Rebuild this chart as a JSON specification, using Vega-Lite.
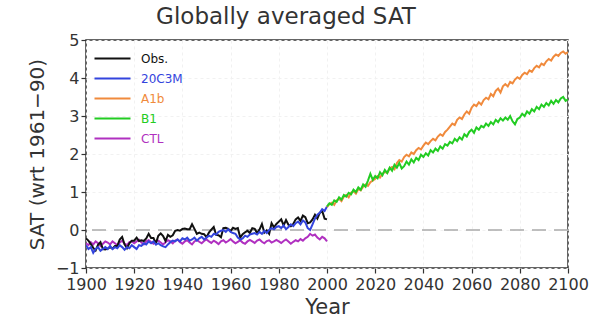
{
  "$schema": "https://vega.github.io/schema/vega-lite/v6.json",
  "width": 482,
  "height": 228,
  "autosize": {"type": "none"},
  "padding": {"left": 86, "top": 40, "right": 31, "bottom": 52},
  "background": "white",
  "config": {
    "font": "DejaVu Sans",
    "view": {"stroke": "#333333", "strokeWidth": 1.5},
    "axis": {
      "labelFont": "DejaVu Sans", "labelFontSize": 16, "labelColor": "#333333",
      "titleFont": "DejaVu Sans", "titleFontWeight": "normal", "titleColor": "#333333",
      "tickColor": "#333333", "tickSize": 5, "tickWidth": 1.2, "domain": false,
      "labelOverlap": false, "labelFlush": false, "labelBound": false,
      "gridColor": "#f1f1f1", "gridDash": [3, 3], "gridWidth": 1
    }
  },
  "title": {
    "text": "Globally  averaged  SAT",
    "font": "DejaVu Sans", "fontSize": 23, "fontWeight": "normal", "color": "#333333",
    "anchor": "middle", "dx": -41, "offset": 3
  },
  "data": {
    "values": [
      {"year":1900,"Obs":-0.22,"C20":-0.40,"CTL":-0.35},
      {"year":1901,"Obs":-0.28,"C20":-0.50,"CTL":-0.40},
      {"year":1902,"Obs":-0.37,"C20":-0.45,"CTL":-0.32},
      {"year":1903,"Obs":-0.47,"C20":-0.60,"CTL":-0.38},
      {"year":1904,"Obs":-0.54,"C20":-0.50,"CTL":-0.30},
      {"year":1905,"Obs":-0.39,"C20":-0.45,"CTL":-0.35},
      {"year":1906,"Obs":-0.32,"C20":-0.55,"CTL":-0.42},
      {"year":1907,"Obs":-0.50,"C20":-0.50,"CTL":-0.36},
      {"year":1908,"Obs":-0.51,"C20":-0.45,"CTL":-0.30},
      {"year":1909,"Obs":-0.49,"C20":-0.50,"CTL":-0.33},
      {"year":1910,"Obs":-0.45,"C20":-0.42,"CTL":-0.38},
      {"year":1911,"Obs":-0.49,"C20":-0.50,"CTL":-0.30},
      {"year":1912,"Obs":-0.42,"C20":-0.45,"CTL":-0.35},
      {"year":1913,"Obs":-0.42,"C20":-0.48,"CTL":-0.40},
      {"year":1914,"Obs":-0.25,"C20":-0.40,"CTL":-0.33},
      {"year":1915,"Obs":-0.18,"C20":-0.45,"CTL":-0.28},
      {"year":1916,"Obs":-0.38,"C20":-0.52,"CTL":-0.36},
      {"year":1917,"Obs":-0.48,"C20":-0.45,"CTL":-0.40},
      {"year":1918,"Obs":-0.35,"C20":-0.48,"CTL":-0.32},
      {"year":1919,"Obs":-0.28,"C20":-0.40,"CTL":-0.30},
      {"year":1920,"Obs":-0.28,"C20":-0.45,"CTL":-0.35},
      {"year":1921,"Obs":-0.20,"C20":-0.50,"CTL":-0.30},
      {"year":1922,"Obs":-0.29,"C20":-0.40,"CTL":-0.26},
      {"year":1923,"Obs":-0.27,"C20":-0.42,"CTL":-0.33},
      {"year":1924,"Obs":-0.29,"C20":-0.35,"CTL":-0.38},
      {"year":1925,"Obs":-0.22,"C20":-0.38,"CTL":-0.30},
      {"year":1926,"Obs":-0.10,"C20":-0.30,"CTL":-0.27},
      {"year":1927,"Obs":-0.21,"C20":-0.35,"CTL":-0.32},
      {"year":1928,"Obs":-0.21,"C20":-0.30,"CTL":-0.36},
      {"year":1929,"Obs":-0.35,"C20":-0.38,"CTL":-0.30},
      {"year":1930,"Obs":-0.15,"C20":-0.35,"CTL":-0.28},
      {"year":1931,"Obs":-0.09,"C20":-0.40,"CTL":-0.33},
      {"year":1932,"Obs":-0.16,"C20":-0.43,"CTL":-0.38},
      {"year":1933,"Obs":-0.29,"C20":-0.45,"CTL":-0.32},
      {"year":1934,"Obs":-0.13,"C20":-0.38,"CTL":-0.27},
      {"year":1935,"Obs":-0.18,"C20":-0.32,"CTL":-0.30},
      {"year":1936,"Obs":-0.14,"C20":-0.28,"CTL":-0.35},
      {"year":1937,"Obs":-0.02,"C20":-0.30,"CTL":-0.28},
      {"year":1938,"Obs":0.00,"C20":-0.25,"CTL":-0.25},
      {"year":1939,"Obs":-0.02,"C20":-0.30,"CTL":-0.32},
      {"year":1940,"Obs":0.03,"C20":-0.22,"CTL":-0.36},
      {"year":1941,"Obs":0.04,"C20":-0.25,"CTL":-0.30},
      {"year":1942,"Obs":0.02,"C20":-0.20,"CTL":-0.27},
      {"year":1943,"Obs":0.02,"C20":-0.28,"CTL":-0.33},
      {"year":1944,"Obs":0.15,"C20":-0.25,"CTL":-0.38},
      {"year":1945,"Obs":0.03,"C20":-0.20,"CTL":-0.30},
      {"year":1946,"Obs":-0.10,"C20":-0.28,"CTL":-0.26},
      {"year":1947,"Obs":-0.07,"C20":-0.22,"CTL":-0.31},
      {"year":1948,"Obs":-0.10,"C20":-0.18,"CTL":-0.35},
      {"year":1949,"Obs":-0.11,"C20":-0.25,"CTL":-0.29},
      {"year":1950,"Obs":-0.19,"C20":-0.20,"CTL":-0.25},
      {"year":1951,"Obs":-0.07,"C20":-0.15,"CTL":-0.30},
      {"year":1952,"Obs":0.01,"C20":-0.18,"CTL":-0.34},
      {"year":1953,"Obs":0.08,"C20":-0.10,"CTL":-0.28},
      {"year":1954,"Obs":-0.13,"C20":-0.12,"CTL":-0.32},
      {"year":1955,"Obs":-0.14,"C20":-0.05,"CTL":-0.37},
      {"year":1956,"Obs":-0.19,"C20":-0.02,"CTL":-0.30},
      {"year":1957,"Obs":0.05,"C20":0.00,"CTL":-0.27},
      {"year":1958,"Obs":0.06,"C20":-0.05,"CTL":-0.33},
      {"year":1959,"Obs":0.03,"C20":0.02,"CTL":-0.29},
      {"year":1960,"Obs":-0.03,"C20":-0.05,"CTL":-0.24},
      {"year":1961,"Obs":0.06,"C20":-0.08,"CTL":-0.30},
      {"year":1962,"Obs":0.03,"C20":-0.10,"CTL":-0.35},
      {"year":1963,"Obs":0.05,"C20":-0.20,"CTL":-0.31},
      {"year":1964,"Obs":-0.20,"C20":-0.25,"CTL":-0.27},
      {"year":1965,"Obs":-0.11,"C20":-0.22,"CTL":-0.33},
      {"year":1966,"Obs":-0.06,"C20":-0.15,"CTL":-0.36},
      {"year":1967,"Obs":-0.02,"C20":-0.18,"CTL":-0.30},
      {"year":1968,"Obs":-0.08,"C20":-0.12,"CTL":-0.26},
      {"year":1969,"Obs":0.05,"C20":-0.10,"CTL":-0.30},
      {"year":1970,"Obs":0.03,"C20":-0.08,"CTL":-0.34},
      {"year":1971,"Obs":-0.08,"C20":-0.12,"CTL":-0.28},
      {"year":1972,"Obs":0.01,"C20":-0.05,"CTL":-0.25},
      {"year":1973,"Obs":0.16,"C20":-0.10,"CTL":-0.31},
      {"year":1974,"Obs":-0.07,"C20":-0.02,"CTL":-0.35},
      {"year":1975,"Obs":-0.01,"C20":-0.08,"CTL":-0.29},
      {"year":1976,"Obs":-0.10,"C20":0.00,"CTL":-0.27},
      {"year":1977,"Obs":0.18,"C20":0.05,"CTL":-0.33},
      {"year":1978,"Obs":0.07,"C20":0.02,"CTL":-0.30},
      {"year":1979,"Obs":0.16,"C20":0.08,"CTL":-0.26},
      {"year":1980,"Obs":0.22,"C20":0.10,"CTL":-0.30},
      {"year":1981,"Obs":0.28,"C20":0.05,"CTL":-0.34},
      {"year":1982,"Obs":0.12,"C20":0.12,"CTL":-0.29},
      {"year":1983,"Obs":0.26,"C20":0.02,"CTL":-0.25},
      {"year":1984,"Obs":0.14,"C20":0.08,"CTL":-0.30},
      {"year":1985,"Obs":0.10,"C20":0.15,"CTL":-0.36},
      {"year":1986,"Obs":0.16,"C20":0.10,"CTL":-0.31},
      {"year":1987,"Obs":0.28,"C20":0.18,"CTL":-0.27},
      {"year":1988,"Obs":0.33,"C20":0.22,"CTL":-0.30},
      {"year":1989,"Obs":0.24,"C20":0.15,"CTL":-0.24},
      {"year":1990,"Obs":0.38,"C20":0.25,"CTL":-0.28},
      {"year":1991,"Obs":0.34,"C20":0.20,"CTL":-0.22},
      {"year":1992,"Obs":0.18,"C20":0.05,"CTL":-0.18},
      {"year":1993,"Obs":0.20,"C20":0.00,"CTL":-0.10},
      {"year":1994,"Obs":0.28,"C20":0.15,"CTL":-0.15},
      {"year":1995,"Obs":0.40,"C20":0.30,"CTL":-0.12},
      {"year":1996,"Obs":0.30,"C20":0.40,"CTL":-0.20},
      {"year":1997,"Obs":0.45,"C20":0.45,"CTL":-0.25},
      {"year":1998,"Obs":0.50,"C20":0.55,"CTL":-0.18},
      {"year":1999,"Obs":0.30,"C20":0.50,"CTL":-0.22},
      {"year":2000,"Obs":0.28,"C20":0.62,"CTL":-0.30,"A1b":0.60,"B1":0.62},
      {"year":2001,"A1b":0.68,"B1":0.70},
      {"year":2002,"A1b":0.72,"B1":0.66},
      {"year":2003,"A1b":0.66,"B1":0.78},
      {"year":2004,"A1b":0.78,"B1":0.74},
      {"year":2005,"A1b":0.82,"B1":0.86},
      {"year":2006,"A1b":0.76,"B1":0.80},
      {"year":2007,"A1b":0.88,"B1":0.92},
      {"year":2008,"A1b":0.92,"B1":0.88},
      {"year":2009,"A1b":0.86,"B1":0.98},
      {"year":2010,"A1b":0.98,"B1":0.94},
      {"year":2011,"A1b":1.02,"B1":1.06},
      {"year":2012,"A1b":0.96,"B1":1.00},
      {"year":2013,"A1b":1.08,"B1":1.12},
      {"year":2014,"A1b":1.04,"B1":1.06},
      {"year":2015,"A1b":1.14,"B1":1.20},
      {"year":2016,"A1b":1.20,"B1":1.14},
      {"year":2017,"A1b":1.16,"B1":1.30},
      {"year":2018,"A1b":1.26,"B1":1.48},
      {"year":2019,"A1b":1.30,"B1":1.32},
      {"year":2020,"A1b":1.35,"B1":1.42},
      {"year":2021,"A1b":1.42,"B1":1.36},
      {"year":2022,"A1b":1.38,"B1":1.52},
      {"year":2023,"A1b":1.48,"B1":1.44},
      {"year":2024,"A1b":1.53,"B1":1.58},
      {"year":2025,"A1b":1.50,"B1":1.50},
      {"year":2026,"A1b":1.62,"B1":1.64},
      {"year":2027,"A1b":1.66,"B1":1.56},
      {"year":2028,"A1b":1.60,"B1":1.72},
      {"year":2029,"A1b":1.76,"B1":1.64},
      {"year":2030,"A1b":1.84,"B1":1.76},
      {"year":2031,"A1b":1.80,"B1":1.62},
      {"year":2032,"A1b":1.92,"B1":1.68},
      {"year":2033,"A1b":1.98,"B1":1.80},
      {"year":2034,"A1b":1.94,"B1":1.72},
      {"year":2035,"A1b":2.04,"B1":1.86},
      {"year":2036,"A1b":2.00,"B1":1.78},
      {"year":2037,"A1b":2.10,"B1":1.90},
      {"year":2038,"A1b":2.16,"B1":1.84},
      {"year":2039,"A1b":2.12,"B1":1.98},
      {"year":2040,"A1b":2.22,"B1":1.92},
      {"year":2041,"A1b":2.30,"B1":2.02},
      {"year":2042,"A1b":2.26,"B1":1.96},
      {"year":2043,"A1b":2.34,"B1":2.10},
      {"year":2044,"A1b":2.40,"B1":2.04},
      {"year":2045,"A1b":2.36,"B1":2.14},
      {"year":2046,"A1b":2.46,"B1":2.08},
      {"year":2047,"A1b":2.52,"B1":2.20},
      {"year":2048,"A1b":2.48,"B1":2.14},
      {"year":2049,"A1b":2.58,"B1":2.26},
      {"year":2050,"A1b":2.64,"B1":2.22},
      {"year":2051,"A1b":2.72,"B1":2.32},
      {"year":2052,"A1b":2.80,"B1":2.28},
      {"year":2053,"A1b":2.76,"B1":2.40},
      {"year":2054,"A1b":2.90,"B1":2.34},
      {"year":2055,"A1b":2.96,"B1":2.44},
      {"year":2056,"A1b":2.92,"B1":2.38},
      {"year":2057,"A1b":3.04,"B1":2.52},
      {"year":2058,"A1b":3.12,"B1":2.46},
      {"year":2059,"A1b":3.06,"B1":2.58},
      {"year":2060,"A1b":3.22,"B1":2.64},
      {"year":2061,"A1b":3.30,"B1":2.56},
      {"year":2062,"A1b":3.26,"B1":2.70},
      {"year":2063,"A1b":3.36,"B1":2.64},
      {"year":2064,"A1b":3.30,"B1":2.74},
      {"year":2065,"A1b":3.42,"B1":2.70},
      {"year":2066,"A1b":3.48,"B1":2.80},
      {"year":2067,"A1b":3.44,"B1":2.74},
      {"year":2068,"A1b":3.58,"B1":2.84},
      {"year":2069,"A1b":3.52,"B1":2.78},
      {"year":2070,"A1b":3.66,"B1":2.90},
      {"year":2071,"A1b":3.72,"B1":2.84},
      {"year":2072,"A1b":3.62,"B1":2.94},
      {"year":2073,"A1b":3.78,"B1":2.88},
      {"year":2074,"A1b":3.84,"B1":2.96},
      {"year":2075,"A1b":3.78,"B1":2.90},
      {"year":2076,"A1b":3.90,"B1":3.00},
      {"year":2077,"A1b":3.86,"B1":2.86},
      {"year":2078,"A1b":3.96,"B1":2.78},
      {"year":2079,"A1b":4.02,"B1":2.92},
      {"year":2080,"A1b":3.98,"B1":2.96},
      {"year":2081,"A1b":4.08,"B1":3.06},
      {"year":2082,"A1b":4.14,"B1":3.00},
      {"year":2083,"A1b":4.10,"B1":3.12},
      {"year":2084,"A1b":4.20,"B1":3.06},
      {"year":2085,"A1b":4.16,"B1":3.18},
      {"year":2086,"A1b":4.26,"B1":3.12},
      {"year":2087,"A1b":4.32,"B1":3.24},
      {"year":2088,"A1b":4.28,"B1":3.18},
      {"year":2089,"A1b":4.38,"B1":3.30},
      {"year":2090,"A1b":4.34,"B1":3.24},
      {"year":2091,"A1b":4.44,"B1":3.34},
      {"year":2092,"A1b":4.50,"B1":3.28},
      {"year":2093,"A1b":4.46,"B1":3.40},
      {"year":2094,"A1b":4.56,"B1":3.32},
      {"year":2095,"A1b":4.62,"B1":3.42},
      {"year":2096,"A1b":4.58,"B1":3.36},
      {"year":2097,"A1b":4.66,"B1":3.46},
      {"year":2098,"A1b":4.70,"B1":3.50},
      {"year":2099,"A1b":4.64,"B1":3.40},
      {"year":2100,"A1b":4.68,"B1":3.44}
    ]
  },
  "layer": [
    {
      "data": {"values": [{"z": 0}]},
      "mark": {"type": "rule", "color": "#aaaaaa", "strokeDash": [14, 8], "strokeWidth": 1.5},
      "encoding": {
        "y": {
          "field": "z", "type": "quantitative",
          "scale": {"domain": [-1, 5], "nice": false, "zero": false},
          "axis": {"values": [-1,0,1,2,3,4,5], "format": "d", "title": "SAT (wrt 1961−90)", "titleFontSize": 20, "titlePadding": 8, "labelPadding": 2, "grid": true, "labelOverlap": false, "labelFlush": false, "labelBound": false}
        }
      }
    },
    {
      "transform": [
        {"fold": ["CTL", "Obs", "C20", "A1b", "B1"], "as": ["series", "value"]},
        {"filter": "isValid(datum.value)"}
      ],
      "mark": {"type": "line", "strokeWidth": 2, "clip": true},
      "encoding": {
        "x": {
          "field": "year", "type": "quantitative",
          "scale": {"domain": [1900, 2100], "nice": false},
          "axis": {"values": [1900,1920,1940,1960,1980,2000,2020,2040,2060,2080,2100], "format": "d", "title": "Year", "titleFontSize": 21, "titlePadding": 4, "labelPadding": 3, "grid": true, "labelOverlap": false}
        },
        "y": {
          "field": "value", "type": "quantitative",
          "scale": {"domain": [-1, 5], "nice": false, "zero": false},
          "axis": {"values": [-1,0,1,2,3,4,5], "format": "d", "title": "SAT (wrt 1961−90)", "titleFontSize": 20, "titlePadding": 8, "labelPadding": 2, "grid": true, "labelOverlap": false, "labelFlush": false, "labelBound": false}
        },
        "color": {
          "field": "series", "type": "nominal",
          "scale": {"domain": ["Obs", "C20", "A1b", "B1", "CTL"], "range": ["#111111", "#3344dd", "#f08a3c", "#22cc22", "#b030c0"]},
          "legend": {
            "title": null, "orient": "none", "legendX": 19, "legendY": 11, "padding": 0,
            "symbolType": "M-3,0H3", "symbolSize": 144, "symbolStrokeWidth": 2.2,
            "labelOffset": 21, "labelFontSize": 12, "labelFont": "DejaVu Sans", "rowPadding": 6,
            "labelExpr": "datum.label == 'Obs' ? 'Obs.' : datum.label == 'C20' ? '20C3M' : datum.label",
            "encode": {"labels": {"update": {"fill": {"scale": "color", "field": "value"}}}}
          }
        }
      }
    }
  ]
}
